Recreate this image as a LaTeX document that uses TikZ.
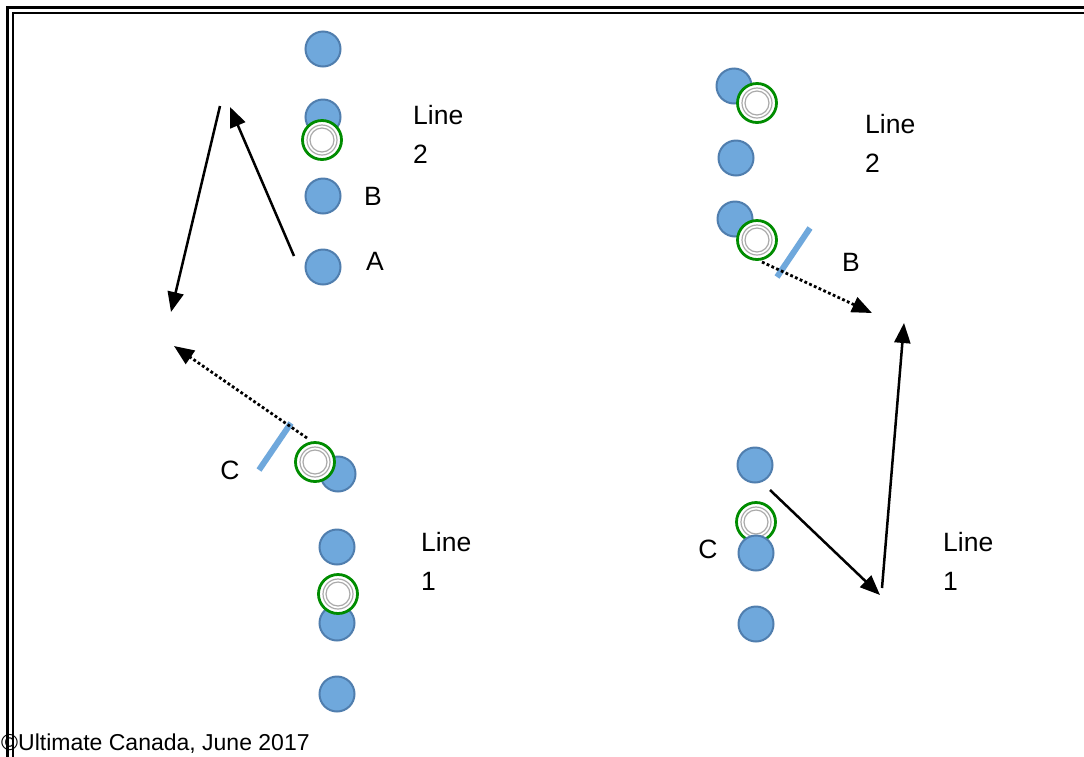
\documentclass[tikz,border=0pt]{standalone}
\usepackage{fontspec}
\setmainfont{Liberation Sans}
\usetikzlibrary{arrows.meta}
\definecolor{pblue}{RGB}{111,168,220}
\definecolor{pborder}{RGB}{80,126,174}
\definecolor{dgreen}{RGB}{0,140,0}
\definecolor{ringgray}{RGB}{170,170,170}
\begin{document}
\begin{tikzpicture}[x=1pt,y=-1pt,
  player/.style={circle, fill=pblue, draw=pborder, line width=2pt, minimum size=35pt, inner sep=0pt},
  defender/.style={circle, fill=white, draw=dgreen, line width=2.8pt, minimum size=39pt, inner sep=0pt,
    path picture={\draw[ringgray, line width=1.2pt] (path picture bounding box.center) circle (15pt);
                  \draw[ringgray, line width=1.2pt] (path picture bounding box.center) circle (12pt);}},
  lbl/.style={font=\fontsize{26.5}{39}\selectfont, inner sep=0pt},
  markline/.style={draw=pblue, line width=6pt},
  cut/.style={line width=2.5pt, -{Triangle[length=20pt,width=16pt]}},
  throw/.style={line width=2.8pt, dash pattern=on 2.8pt off 2.4pt, -{Triangle[length=20pt,width=16pt]}}]
\useasboundingbox (0,0) rectangle (1084,756);
\fill[white] (0,0) rectangle (1084,756);
% frame
\draw[line width=3pt] (7.5,770) -- (7.5,7.5) -- (1095,7.5);
\draw[line width=1.5pt] (13,770) -- (13,13) -- (1095,13);

% ---- left field ----
\node[player] (l1) at (323,49) {};
\node[player] (l2) at (323,117) {};
\node[defender] (ld1) at (322,140) {};
\node[player] (l3) at (323,196) {};
\node[player] (l4) at (323,267) {};
\node[lbl] (lB) at (373,196) {B};
\node[lbl] (lA) at (375,261) {A};
\node[lbl, anchor=north west, align=left] (lline2) at (413,105) {Line\\2};

\node[player] (l5) at (338,474) {};
\node[defender] (ld2) at (315,462) {};
\node[player] (l6) at (337,547) {};
\node[player] (l7) at (337,623) {};
\node[defender] (ld3) at (338,594) {};
\node[player] (l8) at (337,694) {};
\node[lbl] (lC) at (230,470) {C};
\node[lbl, anchor=north west, align=left] (lline1) at (421,532) {Line\\1};

\coordinate (lm1) at (259,470);
\coordinate (lm2) at (291,423);
\draw[markline] (lm1) -- (lm2);

\coordinate (la1s) at (294,256);
\coordinate (la1e) at (230,107);
\coordinate (la2s) at (220,106);
\coordinate (la2e) at (171,312);
\coordinate (lts) at (307,438);
\coordinate (lte) at (174,346);
\draw[cut] (la1s) -- (la1e);
\draw[cut] (la2s) -- (la2e);
\draw[throw] (lts) -- (lte);

% ---- right field ----
\node[player] (r1) at (734,86) {};
\node[defender] (rd1) at (757,103) {};
\node[player] (r2) at (736,158) {};
\node[player] (r3) at (735,219) {};
\node[defender] (rd2) at (757,240) {};
\node[lbl] (rB) at (851,262) {B};
\node[lbl, anchor=north west, align=left] (rline2) at (865,114) {Line\\2};

\node[player] (r4) at (755,465) {};
\node[defender] (rd3) at (756,522) {};
\node[player] (r5) at (756,553) {};
\node[player] (r6) at (756,624) {};
\node[lbl] (rC) at (708,549) {C};
\node[lbl, anchor=north west, align=left] (rline1) at (943,532) {Line\\1};

\coordinate (rm1) at (777,277);
\coordinate (rm2) at (810,228);
\draw[markline] (rm1) -- (rm2);

\coordinate (rts) at (762,262);
\coordinate (rte) at (872,313);
\coordinate (rc1s) at (770,490);
\coordinate (rc1e) at (880,595);
\coordinate (rc2s) at (882,588);
\coordinate (rc2e) at (904,323);
\draw[throw] (rts) -- (rte);
\draw[cut] (rc1s) -- (rc1e);
\draw[cut] (rc2s) -- (rc2e);

% footer
\node[font=\fontsize{23}{28}\selectfont, inner sep=0pt, anchor=base west] (foot) at (1,750) {©Ultimate Canada, June 2017};
\end{tikzpicture}
\end{document}
